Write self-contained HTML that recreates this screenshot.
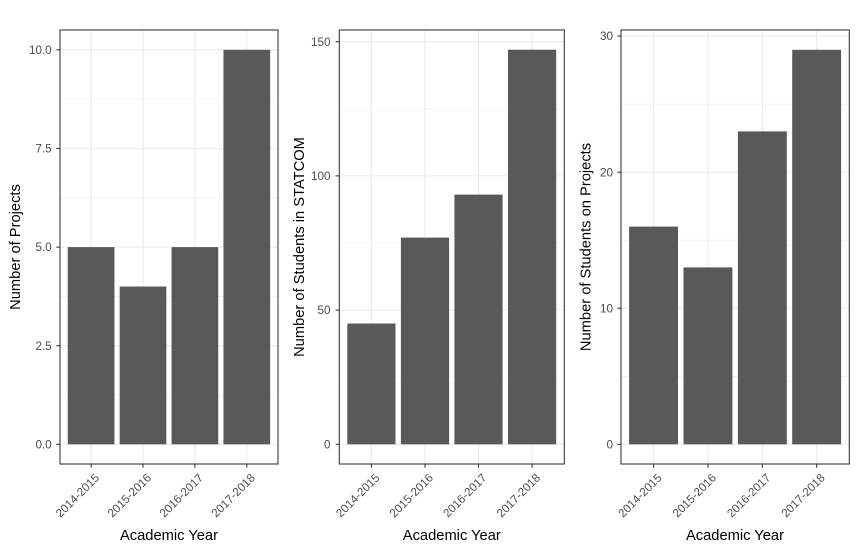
<!DOCTYPE html>
<html><head><meta charset="utf-8"><style>
html,body{margin:0;padding:0;background:#fff;}
svg{display:block;font-family:"Liberation Sans",Arial,sans-serif;}
.tl{font-size:11.7px;fill:#4D4D4D;}
.tt{font-size:14.7px;fill:#000;}
.mj{stroke:#EBEBEB;stroke-width:1.07;}
.mn{stroke:#EBEBEB;stroke-width:0.55;}
.bar{fill:#595959;}
.bd{fill:none;stroke:#333333;stroke-width:1.07;}
.tk{stroke:#333333;stroke-width:1.07;}
</style></head><body>
<svg width="857" height="547" viewBox="0 0 857 547" xmlns="http://www.w3.org/2000/svg">
<rect width="857" height="547" fill="#fff"/>

<!-- Panel 1 -->
<g>
<line class="mn" x1="60" x2="278" y1="395" y2="395"/>
<line class="mn" x1="60" x2="278" y1="296.4" y2="296.4"/>
<line class="mn" x1="60" x2="278" y1="197.8" y2="197.8"/>
<line class="mn" x1="60" x2="278" y1="99.1" y2="99.1"/>
<line class="mj" x1="60" x2="278" y1="444.3" y2="444.3"/>
<line class="mj" x1="60" x2="278" y1="345.7" y2="345.7"/>
<line class="mj" x1="60" x2="278" y1="247.1" y2="247.1"/>
<line class="mj" x1="60" x2="278" y1="148.4" y2="148.4"/>
<line class="mj" x1="60" x2="278" y1="49.8" y2="49.8"/>
<line class="mj" x1="91.1" x2="91.1" y1="30" y2="464"/>
<line class="mj" x1="143" x2="143" y1="30" y2="464"/>
<line class="mj" x1="194.9" x2="194.9" y1="30" y2="464"/>
<line class="mj" x1="246.8" x2="246.8" y1="30" y2="464"/>
<rect class="bar" x="67.75" y="247.1" width="46.7" height="197.2"/>
<rect class="bar" x="119.65" y="286.5" width="46.7" height="157.8"/>
<rect class="bar" x="171.55" y="247.1" width="46.7" height="197.2"/>
<rect class="bar" x="223.45" y="49.8" width="46.7" height="394.5"/>
<rect class="bd" x="60" y="30" width="218" height="434"/>
<g class="tk">
<line x1="56.3" x2="60" y1="444.3" y2="444.3"/>
<line x1="56.3" x2="60" y1="345.7" y2="345.7"/>
<line x1="56.3" x2="60" y1="247.1" y2="247.1"/>
<line x1="56.3" x2="60" y1="148.4" y2="148.4"/>
<line x1="56.3" x2="60" y1="49.8" y2="49.8"/>
<line x1="91.1" x2="91.1" y1="464" y2="467.7"/>
<line x1="143" x2="143" y1="464" y2="467.7"/>
<line x1="194.9" x2="194.9" y1="464" y2="467.7"/>
<line x1="246.8" x2="246.8" y1="464" y2="467.7"/>
</g>
<g class="tl" text-anchor="end">
<text x="51.7" y="448.4">0.0</text>
<text x="51.7" y="349.8">2.5</text>
<text x="51.7" y="251.2">5.0</text>
<text x="51.7" y="152.5">7.5</text>
<text x="51.7" y="53.9">10.0</text>
<text transform="translate(91.1,469.6) rotate(-45)" y="12.6">2014-2015</text>
<text transform="translate(143,469.6) rotate(-45)" y="12.6">2015-2016</text>
<text transform="translate(194.9,469.6) rotate(-45)" y="12.6">2016-2017</text>
<text transform="translate(246.8,469.6) rotate(-45)" y="12.6">2017-2018</text>
</g>
<text class="tt" text-anchor="middle" x="169" y="540">Academic Year</text>
<text class="tt" text-anchor="middle" transform="translate(20,247) rotate(-90)">Number of Projects</text>
</g>

<!-- Panel 2 -->
<g>
<line class="mn" x1="339.3" x2="564.3" y1="377.2" y2="377.2"/>
<line class="mn" x1="339.3" x2="564.3" y1="243" y2="243"/>
<line class="mn" x1="339.3" x2="564.3" y1="108.8" y2="108.8"/>
<line class="mj" x1="339.3" x2="564.3" y1="444.3" y2="444.3"/>
<line class="mj" x1="339.3" x2="564.3" y1="310.1" y2="310.1"/>
<line class="mj" x1="339.3" x2="564.3" y1="175.9" y2="175.9"/>
<line class="mj" x1="339.3" x2="564.3" y1="41.7" y2="41.7"/>
<line class="mj" x1="371.4" x2="371.4" y1="30" y2="464"/>
<line class="mj" x1="425" x2="425" y1="30" y2="464"/>
<line class="mj" x1="478.5" x2="478.5" y1="30" y2="464"/>
<line class="mj" x1="532.1" x2="532.1" y1="30" y2="464"/>
<rect class="bar" x="347.3" y="323.5" width="48.2" height="120.8"/>
<rect class="bar" x="400.9" y="237.6" width="48.2" height="206.7"/>
<rect class="bar" x="454.4" y="194.6" width="48.2" height="249.7"/>
<rect class="bar" x="508" y="49.7" width="48.2" height="394.6"/>
<rect class="bd" x="339.3" y="30" width="225" height="434"/>
<g class="tk">
<line x1="335.6" x2="339.3" y1="444.3" y2="444.3"/>
<line x1="335.6" x2="339.3" y1="310.1" y2="310.1"/>
<line x1="335.6" x2="339.3" y1="175.9" y2="175.9"/>
<line x1="335.6" x2="339.3" y1="41.7" y2="41.7"/>
<line x1="371.4" x2="371.4" y1="464" y2="467.7"/>
<line x1="425" x2="425" y1="464" y2="467.7"/>
<line x1="478.5" x2="478.5" y1="464" y2="467.7"/>
<line x1="532.1" x2="532.1" y1="464" y2="467.7"/>
</g>
<g class="tl" text-anchor="end">
<text x="330.5" y="448.4">0</text>
<text x="330.5" y="314.2">50</text>
<text x="330.5" y="180">100</text>
<text x="330.5" y="45.8">150</text>
<text transform="translate(371.4,469.6) rotate(-45)" y="12.6">2014-2015</text>
<text transform="translate(425,469.6) rotate(-45)" y="12.6">2015-2016</text>
<text transform="translate(478.5,469.6) rotate(-45)" y="12.6">2016-2017</text>
<text transform="translate(532.1,469.6) rotate(-45)" y="12.6">2017-2018</text>
</g>
<text class="tt" text-anchor="middle" x="451.8" y="540">Academic Year</text>
<text class="tt" text-anchor="middle" transform="translate(304,247) rotate(-90)">Number of Students in STATCOM</text>
</g>

<!-- Panel 3 -->
<g>
<line class="mn" x1="621" x2="849.3" y1="376.3" y2="376.3"/>
<line class="mn" x1="621" x2="849.3" y1="240.2" y2="240.2"/>
<line class="mn" x1="621" x2="849.3" y1="104.2" y2="104.2"/>
<line class="mj" x1="621" x2="849.3" y1="444.3" y2="444.3"/>
<line class="mj" x1="621" x2="849.3" y1="308.2" y2="308.2"/>
<line class="mj" x1="621" x2="849.3" y1="172.2" y2="172.2"/>
<line class="mj" x1="621" x2="849.3" y1="36.1" y2="36.1"/>
<line class="mj" x1="653.6" x2="653.6" y1="30" y2="464"/>
<line class="mj" x1="708" x2="708" y1="30" y2="464"/>
<line class="mj" x1="762.4" x2="762.4" y1="30" y2="464"/>
<line class="mj" x1="816.7" x2="816.7" y1="30" y2="464"/>
<rect class="bar" x="629.1" y="226.6" width="48.9" height="217.7"/>
<rect class="bar" x="683.5" y="267.4" width="48.9" height="176.9"/>
<rect class="bar" x="737.9" y="131.4" width="48.9" height="312.9"/>
<rect class="bar" x="792.2" y="49.8" width="48.9" height="394.5"/>
<rect class="bd" x="621" y="30" width="228.3" height="434"/>
<g class="tk">
<line x1="617.3" x2="621" y1="444.3" y2="444.3"/>
<line x1="617.3" x2="621" y1="308.2" y2="308.2"/>
<line x1="617.3" x2="621" y1="172.2" y2="172.2"/>
<line x1="617.3" x2="621" y1="36.1" y2="36.1"/>
<line x1="653.6" x2="653.6" y1="464" y2="467.7"/>
<line x1="708" x2="708" y1="464" y2="467.7"/>
<line x1="762.4" x2="762.4" y1="464" y2="467.7"/>
<line x1="816.7" x2="816.7" y1="464" y2="467.7"/>
</g>
<g class="tl" text-anchor="end">
<text x="613" y="448.4">0</text>
<text x="613" y="312.3">10</text>
<text x="613" y="176.3">20</text>
<text x="613" y="40.2">30</text>
<text transform="translate(653.6,469.6) rotate(-45)" y="12.6">2014-2015</text>
<text transform="translate(708,469.6) rotate(-45)" y="12.6">2015-2016</text>
<text transform="translate(762.4,469.6) rotate(-45)" y="12.6">2016-2017</text>
<text transform="translate(816.7,469.6) rotate(-45)" y="12.6">2017-2018</text>
</g>
<text class="tt" text-anchor="middle" x="735" y="540">Academic Year</text>
<text class="tt" text-anchor="middle" transform="translate(590.5,247) rotate(-90)">Number of Students on Projects</text>
</g>
</svg>
</body></html>
